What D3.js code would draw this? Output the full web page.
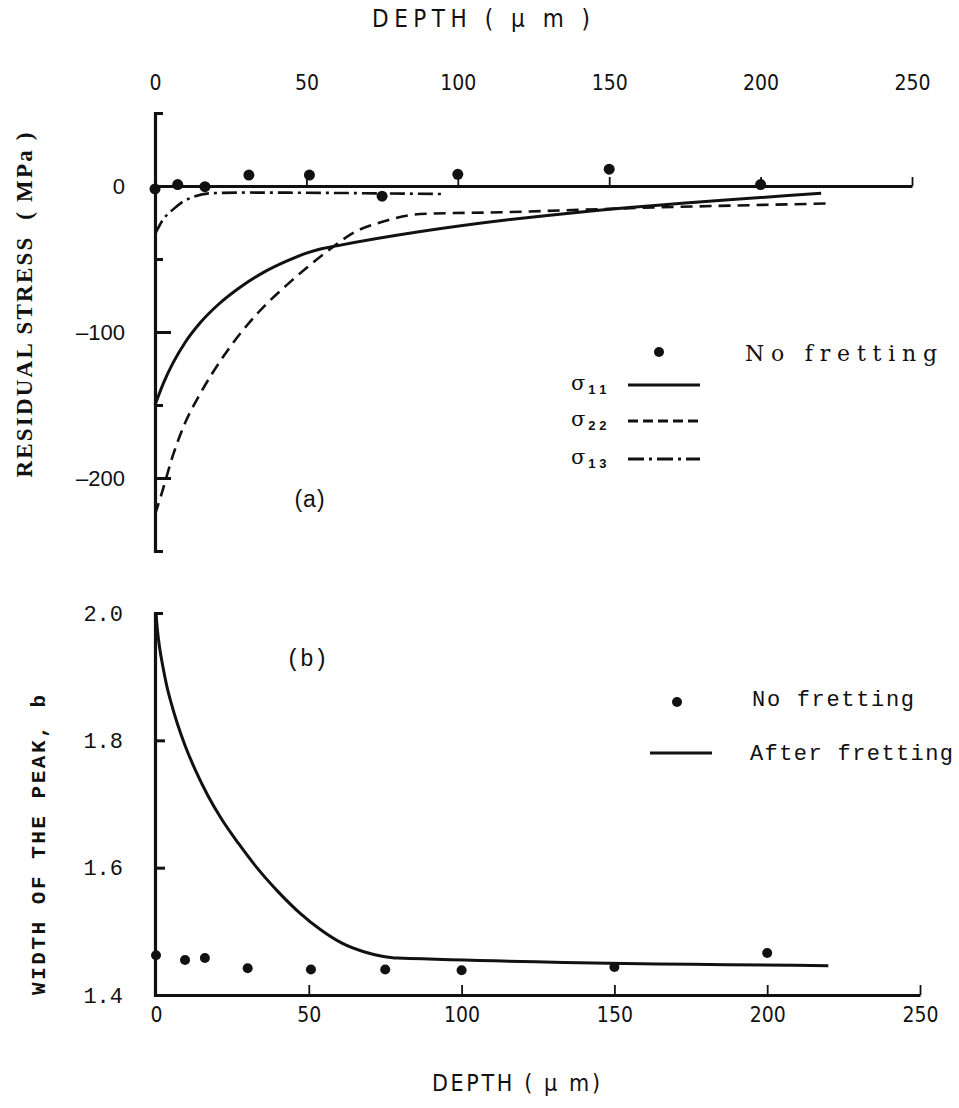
<!DOCTYPE html>
<html>
<head>
<meta charset="utf-8">
<script src="https://cdn.jsdelivr.net/npm/d3@7"></script>
<style>
  html, body { margin: 0; padding: 0; background: #fff; }
  svg { display: block; }
  text { white-space: pre; }
</style>
</head>
<body>
<svg id="chart" width="959" height="1108"></svg>
<script>
// ---------- DATA ----------
const depthTicks = [0, 50, 100, 150, 200, 250];
const stressLabelTicks = [0, -100, -200];
const stressMajorTicks = [-100, -200];
const stressMinorTicks = [-50, -150];
const widthLabelTicks = [2.0, 1.8, 1.6, 1.4];
const widthTicks = [1.8, 1.6];

// (a) no fretting points
const noFretDepthA = [0, 7.5, 16.5, 31, 51, 75, 100, 150, 200];
const noFretStressA = [-2, 1, -0.5, 7.5, 7.5, -7, 8, 11.5, 1];

// (a) sigma11
const s11Depth = [0, 3, 6, 10, 15, 21, 28, 36, 44, 50, 55, 60, 220];
const s11Stress = [-150, -134, -121, -107, -93.5, -81, -69.5, -59, -51, -46, -43, -41, -5];
// (a) sigma22
const s22Depth = [0, 2, 6, 10, 15, 22.5, 33.5, 44.5, 55.5, 66.5, 76, 84, 90, 114, 160, 222];
const s22Stress = [-225, -212, -184, -162, -142, -117, -88, -66, -47, -31, -24, -20, -19, -18, -15, -12];
// (a) sigma13
const s13Depth = [0, 3, 6, 9, 12, 18, 30, 95];
const s13Stress = [-33, -22, -16, -11, -8, -5, -4.5, -5.5];

// (b) no fretting points
const noFretDepthB = [0, 9.5, 16, 30, 50.7, 75, 100, 150, 200];
const noFretWidthB = [1.4625, 1.455, 1.458, 1.442, 1.44, 1.44, 1.439, 1.444, 1.466];
// (b) after fretting
const fretDepth = [0, 0.5, 1.2, 2.2, 3.5, 5, 7, 9.5, 13, 17, 21.5, 27, 33, 40, 47, 54, 61, 68, 74, 79, 220];
const fretWidth = [2.0, 1.972, 1.945, 1.917, 1.886, 1.858, 1.826, 1.792, 1.752, 1.713, 1.676, 1.638, 1.600, 1.562, 1.529, 1.502, 1.481, 1.468, 1.461, 1.458, 1.446];

// ---------- DRAW ----------
const svg = d3.select("#chart");
const ink = "#111";
const cond = "'DejaVu Sans Condensed', 'Liberation Sans', Arial, sans-serif";
const sans = "'Liberation Sans', Arial, sans-serif";
const mono = "'Liberation Mono', 'DejaVu Sans Mono', monospace";
const serif = "'Liberation Serif', 'DejaVu Serif', serif";
const wideSerif = "'DejaVu Serif', 'Liberation Serif', serif";

const xTop = d3.scaleLinear([0, 250], [155, 912]);
const yTop = d3.scaleLinear([-250, 50], [551, 113]);
const xBot = d3.scaleLinear([0, 250], [156, 920]);
const yBot = d3.scaleLinear([1.4, 2.0], [995, 613]);

function styleAxis(g, domainW, tickW) {
  g.select(".domain").attr("stroke", ink).attr("stroke-width", domainW).attr("fill", "none");
  g.selectAll(".tick line").attr("stroke", ink).attr("stroke-width", tickW);
  g.selectAll("text").attr("fill", ink);
}

// ===== Panel (a) =====
const gTopLabels = svg.append("g").attr("transform", "translate(0,100)")
  .call(d3.axisTop(xTop).tickValues(depthTicks).tickSize(0).tickPadding(10));
gTopLabels.select(".domain").remove();
gTopLabels.selectAll("text").attr("font-family", cond).attr("font-size", 21).attr("fill", ink);

const gZero = svg.append("g").attr("transform", `translate(0,${yTop(0)})`)
  .call(d3.axisTop(xTop).tickValues([50, 100, 150, 200, 250]).tickSize(9).tickSizeOuter(0).tickFormat(""));
styleAxis(gZero, 3.2, 1.8);

const gYa1 = svg.append("g").attr("transform", "translate(155,0)")
  .call(d3.axisRight(yTop).tickValues(stressMajorTicks).tickSize(16).tickSizeOuter(8).tickFormat(""));
styleAxis(gYa1, 3.2, 3);
const gYa2 = svg.append("g").attr("transform", "translate(155,0)")
  .call(d3.axisRight(yTop).tickValues(stressMinorTicks).tickSize(8).tickSizeOuter(0).tickFormat(""));
gYa2.select(".domain").remove();
styleAxis(gYa2, 0, 3);
const gYaL = svg.append("g").attr("transform", "translate(155,0)")
  .call(d3.axisLeft(yTop).tickValues(stressLabelTicks).tickSize(0).tickPadding(30)
    .tickFormat(d => d < 0 ? "\u2013" + (-d) : String(d)));
gYaL.select(".domain").remove();
gYaL.selectAll("text").attr("font-family", sans).attr("font-size", 22).attr("fill", ink);

const lineA = (xs, ys) => d3.line().x((d, i) => xTop(xs[i])).y((d, i) => yTop(ys[i])).curve(d3.curveMonotoneX)(xs);
svg.append("path").attr("d", lineA(s11Depth, s11Stress)).attr("fill", "none").attr("stroke", ink).attr("stroke-width", 3);
svg.append("path").attr("d", lineA(s22Depth, s22Stress)).attr("fill", "none").attr("stroke", ink).attr("stroke-width", 2.6).attr("stroke-dasharray", "12,7");
svg.append("path").attr("d", lineA(s13Depth, s13Stress)).attr("fill", "none").attr("stroke", ink).attr("stroke-width", 2.6).attr("stroke-dasharray", "15,5,3,5");

svg.append("g").selectAll("circle").data(noFretDepthA).join("circle")
  .attr("cx", d => xTop(d)).attr("cy", (d, i) => yTop(noFretStressA[i])).attr("r", 5.5).attr("fill", ink);

svg.append("text").attr("x", 481).attr("y", 27).attr("text-anchor", "middle")
  .attr("font-family", cond).attr("font-size", 24).attr("fill", ink)
  .attr("textLength", 218).attr("lengthAdjust", "spacing")
  .text("DEPTH ( \u03bc m )");

svg.append("text").attr("transform", "translate(32,305) rotate(-90)").attr("text-anchor", "middle")
  .attr("font-family", serif).attr("font-weight", "bold").attr("font-size", 23).attr("fill", ink)
  .attr("textLength", 345).attr("lengthAdjust", "spacing")
  .text("RESIDUAL STRESS  ( MPa )");

svg.append("text").attr("x", 310).attr("y", 507).attr("text-anchor", "middle")
  .attr("font-family", sans).attr("font-size", 23).attr("fill", ink).attr("letter-spacing", 1).text("(a)");

// legend (a)
svg.append("circle").attr("cx", 659).attr("cy", 352).attr("r", 5).attr("fill", ink);
svg.append("text").attr("x", 745).attr("y", 361).attr("font-family", wideSerif).attr("font-size", 22).attr("fill", ink)
  .attr("textLength", 192).attr("lengthAdjust", "spacing").text("No fretting");
const legA = [
  {sub: "1 1", y: 385, dash: null},
  {sub: "2 2", y: 421, dash: "10,5"},
  {sub: "1 3", y: 459, dash: "16,5,3,5"}
];
legA.forEach(l => {
  const t = svg.append("text").attr("x", 571).attr("y", l.y + 5).attr("font-family", wideSerif).attr("font-size", 21).attr("fill", ink);
  t.append("tspan").text("\u03c3");
  t.append("tspan").attr("dx", 3).attr("dy", 4).attr("font-size", 13).attr("font-weight", "bold").attr("font-family", sans).text(l.sub);
  svg.append("line").attr("x1", 628).attr("x2", 700).attr("y1", l.y).attr("y2", l.y)
    .attr("stroke", ink).attr("stroke-width", 3).attr("stroke-dasharray", l.dash);
});

// ===== Panel (b) =====
const gYb = svg.append("g").attr("transform", "translate(155,0)")
  .call(d3.axisRight(yBot).tickValues(widthTicks).tickSize(10).tickSizeOuter(8).tickFormat(""));
styleAxis(gYb, 3.2, 3);
const gYbL = svg.append("g").attr("transform", "translate(155,0)")
  .call(d3.axisLeft(yBot).tickValues(widthLabelTicks).tickSize(0).tickPadding(32).tickFormat(d3.format(".1f")));
gYbL.select(".domain").remove();
gYbL.selectAll("text").attr("font-family", mono).attr("font-size", 22).attr("fill", ink);

const gXb = svg.append("g").attr("transform", "translate(0,995)")
  .call(d3.axisTop(xBot).tickValues([50, 100, 150, 200, 250]).tickSize(10).tickSizeOuter(0).tickFormat(""));
styleAxis(gXb, 3.2, 1.8);
const gXbL = svg.append("g").attr("transform", "translate(0,995)")
  .call(d3.axisBottom(xBot).tickValues(depthTicks).tickSize(0).tickPadding(12));
gXbL.select(".domain").remove();
gXbL.selectAll("text").attr("font-family", cond).attr("font-size", 21).attr("fill", ink);

const lineB = d3.line().x((d, i) => xBot(fretDepth[i])).y((d, i) => yBot(fretWidth[i])).curve(d3.curveMonotoneX);
svg.append("path").attr("d", lineB(fretDepth)).attr("fill", "none").attr("stroke", ink).attr("stroke-width", 3);

svg.append("g").selectAll("circle").data(noFretDepthB).join("circle")
  .attr("cx", d => xBot(d)).attr("cy", (d, i) => yBot(noFretWidthB[i])).attr("r", 5).attr("fill", ink);

svg.append("text").attr("x", 516).attr("y", 1091).attr("text-anchor", "middle")
  .attr("font-family", cond).attr("font-size", 23).attr("fill", ink)
  .attr("textLength", 168).attr("lengthAdjust", "spacing")
  .text("DEPTH ( \u03bc m)");

svg.append("text").attr("transform", "translate(45,845) rotate(-90)").attr("text-anchor", "middle")
  .attr("font-family", mono).attr("font-weight", "bold").attr("font-size", 21).attr("fill", ink)
  .attr("textLength", 300).attr("lengthAdjust", "spacing")
  .text("WIDTH OF THE PEAK, b");

svg.append("text").attr("x", 307).attr("y", 666).attr("text-anchor", "middle")
  .attr("font-family", mono).attr("font-size", 23).attr("fill", ink).text("(b)");

// legend (b)
svg.append("circle").attr("cx", 677).attr("cy", 702).attr("r", 5).attr("fill", ink);
svg.append("text").attr("x", 752).attr("y", 706).attr("font-family", mono).attr("font-size", 22).attr("fill", ink)
  .attr("textLength", 162).attr("lengthAdjust", "spacing").text("No fretting");
svg.append("line").attr("x1", 650).attr("x2", 712).attr("y1", 753).attr("y2", 753).attr("stroke", ink).attr("stroke-width", 3);
svg.append("text").attr("x", 750).attr("y", 760).attr("font-family", mono).attr("font-size", 22).attr("fill", ink)
  .attr("textLength", 203).attr("lengthAdjust", "spacing").text("After fretting");
</script>
</body>
</html>
